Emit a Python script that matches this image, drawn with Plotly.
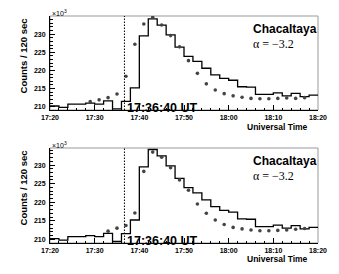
import plotly.graph_objects as go

# ---------------- data (counts in units of 10^3 per 120 s) ----------------
START = "17:20"
END = "18:20"
BIN_MIN = 2

hist_counts = [210.2, 209.8, 210.7, 210.7, 211.0, 210.7, 211.6, 209.4, 211.5, 215.2,
               229.5, 234.2, 232.5, 229.8, 226.4, 223.9, 222.5, 220.6, 218.8, 217.8,
               217.3, 215.5, 215.4, 213.4, 213.4, 213.8, 213.0, 213.7, 212.8, 213.2]

top_dot_times = ["17:29", "17:31", "17:33", "17:35", "17:37", "17:39", "17:41", "17:43",
                 "17:45", "17:47", "17:49", "17:51", "17:53", "17:55", "17:57", "17:59",
                 "18:01", "18:03", "18:05", "18:07", "18:09", "18:11", "18:13", "18:15", "18:17"]
top_dot_vals = [211.4, 211.9, 212.5, 213.5, 218.4, 227.2, 232.8, 234.6,
                232.5, 229.6, 226.5, 222.7, 219.2, 216.3, 214.6, 213.6,
                213.0, 212.6, 212.3, 212.2, 212.2, 212.3, 212.4, 212.3, 212.5]

bot_dot_times = ["17:33", "17:35", "17:37", "17:39", "17:41", "17:43", "17:45", "17:47",
                 "17:49", "17:51", "17:53", "17:55", "17:57", "17:59", "18:01", "18:03",
                 "18:05", "18:07", "18:09", "18:11", "18:13", "18:15", "18:17"]
bot_dot_vals = [212.2, 213.0, 213.7, 217.1, 228.3, 233.5, 232.1, 229.3,
                226.0, 223.2, 219.5, 217.0, 215.2, 214.0, 213.2, 212.8,
                212.5, 212.3, 212.3, 212.4, 212.5, 212.7, 212.9]

onset_time = "17:36:40"
x_tick_labels = ["17:20", "17:30", "17:40", "17:50", "18:00", "18:10", "18:20"]
y_tick_vals = [210, 215, 220, 225, 230]
station = "Chacaltaya"
alpha_label = "α = −3.2"


def to_min(t):
    p = [int(v) for v in t.split(":")]
    h, mi = p[0], p[1]
    s = p[2] if len(p) > 2 else 0
    h0, m0 = [int(v) for v in START.split(":")]
    return (h - h0) * 60 + (mi - m0) + s / 60.0


n_bins = len(hist_counts)
hist_x = [to_min(START) + i * BIN_MIN for i in range(n_bins)] + [to_min(END)]
hist_y = hist_counts + [hist_counts[-1]]

# ---------------- layout geometry ----------------
W, H = 339, 274
ML, MR, MT, MB = 50, 17, 16, 31
PW = W - ML - MR
PH = H - MT - MB


def py(p):
    return (H - MB - p) / PH


def px(p):
    return (p - ML) / PW


top_dom = [py(110), 1.0]
bot_dom = [0.0, py(148)]

fig = go.Figure()

BOLD = dict(family="Liberation Sans, Arial, sans-serif", weight="bold", color="black")

panels = [
    ("x", "y", top_dot_times, top_dot_vals, [209.1, 235.0]),
    ("x2", "y2", bot_dot_times, bot_dot_vals, [209.0, 234.6]),
]

for xa, ya, dt, dv, yr in panels:
    fig.add_trace(go.Scatter(x=hist_x, y=hist_y, mode="lines", line_shape="hv",
                             line=dict(color="black", width=1.3),
                             xaxis=xa, yaxis=ya, showlegend=False, hoverinfo="skip"))
    fig.add_trace(go.Scatter(x=[to_min(t) for t in dt], y=dv, mode="markers",
                             marker=dict(color="#444", size=3.6),
                             xaxis=xa, yaxis=ya, showlegend=False, hoverinfo="skip"))
    # onset dotted line
    fig.add_shape(type="line", xref=xa, yref=ya + " domain",
                  x0=to_min(onset_time), x1=to_min(onset_time), y0=0, y1=1,
                  line=dict(color="black", width=1, dash="1.5px,1.5px"))
    # gray frame
    fig.add_shape(type="rect", xref=xa + " domain", yref=ya + " domain",
                  x0=0, x1=1, y0=0, y1=1, line=dict(color="#999", width=1),
                  layer="below")

tickvals = [to_min(t) for t in x_tick_labels]

xcommon = dict(range=[to_min(START), to_min(END)], tickvals=tickvals, ticktext=x_tick_labels,
               ticks="inside", ticklen=5, tickwidth=1, tickcolor="black",
               showline=True, linecolor="black", linewidth=1, mirror=False,
               showgrid=False, zeroline=False, ticklabeloverflow="allow",
               minor=dict(dtick=BIN_MIN, tick0=0, ticks="inside", ticklen=2.5,
                          tickcolor="black", showgrid=False),
               tickfont=dict(size=7, **BOLD), ticklabelstandoff=1)

ycommon = dict(tickvals=y_tick_vals, ticks="inside", ticklen=5, tickwidth=1, tickcolor="black",
               showline=True, linecolor="black", linewidth=1, mirror=False,
               showgrid=False, zeroline=False, ticklabeloverflow="allow",
               minor=dict(dtick=1, tick0=0, ticks="inside", ticklen=2.5,
                          tickcolor="black", showgrid=False),
               tickfont=dict(size=7, **BOLD), ticklabelstandoff=2)

fig.update_layout(
    width=W, height=H,
    margin=dict(l=ML, r=MR, t=MT, b=MB),
    paper_bgcolor="white", plot_bgcolor="white",
    hovermode=False,
    xaxis=dict(domain=[0, 1], anchor="y", **xcommon),
    yaxis=dict(domain=top_dom, anchor="x", range=panels[0][4], **ycommon),
    xaxis2=dict(domain=[0, 1], anchor="y2", **xcommon),
    yaxis2=dict(domain=bot_dom, anchor="x2", range=panels[1][4], **ycommon),
)

ann = []
for (xa, ya, *_), off in zip(panels, [0, 132]):
    ann += [
        dict(text="×10<sup>3</sup>", xref="paper", yref="paper", x=px(50), y=py(13 + off),
             xanchor="left", yanchor="middle", showarrow=False,
             font=dict(size=7, family="Liberation Sans, Arial, sans-serif", color="black")),
        dict(text="Counts / 120 sec", xref="paper", yref="paper", x=px(23), y=py(56 + off),
             xanchor="center", yanchor="middle", textangle=-90, showarrow=False,
             font=dict(size=9.5, **BOLD)),
        dict(text=station, xref="paper", yref="paper", x=px(254), y=py(29 + off),
             xanchor="left", yanchor="middle", showarrow=False, font=dict(size=12, **BOLD)),
        dict(text=alpha_label, xref="paper", yref="paper", x=px(254), y=py(43.5 + off),
             xanchor="left", yanchor="middle", showarrow=False,
             font=dict(size=12, family="Liberation Serif, Times New Roman, serif", color="black")),
        dict(text=onset_time + " UT", xref=xa, yref="paper", x=to_min(onset_time), xshift=1,
             y=py(108.5 + off), xanchor="left", yanchor="middle", showarrow=False,
             font=dict(size=12.5, **BOLD)),
        dict(text="Universal Time", xref="paper", yref="paper", x=px(314), y=py(126.5 + off),
             xanchor="right", yanchor="middle", showarrow=False, font=dict(size=8.5, **BOLD)),
    ]
fig.update_layout(annotations=ann)

fig.write_html("out.html", config={"displayModeBar": False},
               post_script="document.body.style.margin='0';document.body.style.padding='0';")
